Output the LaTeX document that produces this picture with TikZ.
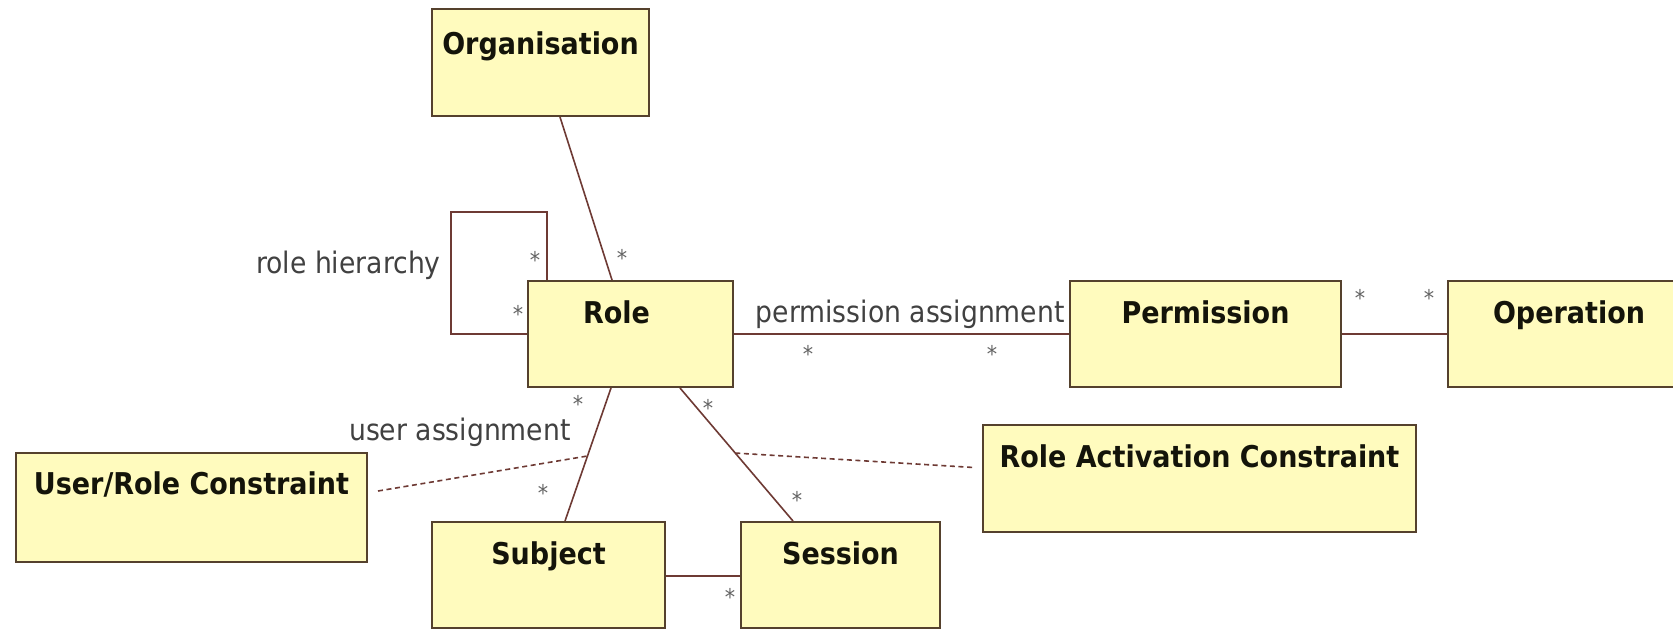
\documentclass[tikz,border=0pt]{standalone}
\usepackage{fontspec}
\setmainfont{DejaVu Sans Condensed}[BoldFont={DejaVu Sans Condensed Bold}]
\usetikzlibrary{calc}
\definecolor{boxfill}{RGB}{255,251,190}
\definecolor{boxdraw}{RGB}{85,65,45}
\definecolor{linecol}{RGB}{110,58,52}
\definecolor{titlecol}{RGB}{20,20,10}
\definecolor{labelcol}{RGB}{65,65,65}
\definecolor{starcol}{RGB}{100,100,100}
\begin{document}
\begin{tikzpicture}[x=0.5pt,y=-0.5pt,
 umlbox/.style={draw=boxdraw, fill=boxfill, line width=1pt, inner sep=0, rectangle},
 title/.style={font=\fontsize{15}{18}\selectfont\bfseries, text=titlecol, anchor=base, inner sep=0, yshift=-21.5pt},
 assoc/.style={draw=linecol, line width=0.8pt},
 constr/.style={draw=linecol, line width=0.8pt, dash pattern=on 2.5pt off 1.8pt},
 lbl/.style={font=\fontsize{14.8}{17}\selectfont, text=labelcol, anchor=base east, inner sep=0},
 mult/.style={font=\fontsize{11.5}{11.5}\selectfont, text=starcol, anchor=base, inner sep=0, yshift=-6.9pt}]

\clip (0,0) rectangle (1673,629);
\fill[white] (0,0) rectangle (1673,629);

% boxes
\node[umlbox, minimum width=108.5pt, minimum height=53.5pt] (org)  at (540.5,62.5) {};
\node[umlbox, minimum width=102.5pt, minimum height=53pt]   (role) at (630.5,334) {};
\node[umlbox, minimum width=135.5pt, minimum height=53pt]   (perm) at (1205.5,334) {};
\node[umlbox, minimum width=121pt,   minimum height=53pt]   (oper) at (1569,334) {};
\node[umlbox, minimum width=175.5pt, minimum height=54.5pt] (urc)  at (191.5,507.5) {};
\node[umlbox, minimum width=116.5pt, minimum height=53pt]   (subj) at (548.5,575) {};
\node[umlbox, minimum width=99.5pt,  minimum height=53pt]   (sess) at (840.5,575) {};
\node[umlbox, minimum width=216.5pt, minimum height=53.5pt] (rac)  at (1199.5,478.5) {};

% titles
\node[title, yshift=-1.5pt] (torg)  at (org.north) {Organisation};
\node[title, xshift=-7pt] (trole) at (role.north) {Role};
\node[title] (tperm) at (perm.north) {Permission};
\node[title] (toper) at (oper.north) {Operation};
\node[title, yshift=0.5pt] (turc)  at (urc.north) {User/Role Constraint};
\node[title] (tsubj) at (subj.north) {Subject};
\node[title] (tsess) at (sess.north) {Session};
\node[title] (trac)  at (rac.north) {Role Activation Constraint};

% associations
\draw[assoc] ($(org.south)+(19.5,0)$) -- ($(role.north)+(-18.5,0)$);
\draw[assoc] ($(role.north west)+(20,0)$) -- ++(0,-68) -- ++(-96,0) |- (role.west);
\draw[assoc] (role.east) -- (perm.west);
\draw[assoc] (perm.east) -- (oper.west);
\draw[assoc] ($(role.south)+(-19.5,0)$) -- coordinate[pos=0.511] (ua) ($(subj.north)+(16.5,0)$);
\draw[assoc] ($(role.south)+(49.5,0)$) -- coordinate[pos=0.489] (ra) ($(sess.north)+(-47.5,0)$);
\draw[assoc] ($(subj.east)+(0,1)$) -- ($(sess.west)+(0,1)$);

% constraints
\draw[constr] ($(urc.east)+(10,-16.5)$) -- (ua);
\draw[constr] (ra) -- ($(rac.west)+(-8,-11)$);

% labels
\node[lbl] (lrh) at (441,273) {role hierarchy};
\node[lbl] (lpa) at (1065,322) {permission assignment};
\node[lbl] (lua) at (571,440) {user assignment};

% multiplicities
\node[mult] (m1)  at (535,255) {*};
\node[mult] (m2)  at (518,309) {*};
\node[mult] (m3)  at (622,253) {*};
\node[mult] (m4)  at (808,349) {*};
\node[mult] (m5)  at (992,349) {*};
\node[mult] (m6)  at (1360,293) {*};
\node[mult] (m7)  at (1429,293) {*};
\node[mult] (m8)  at (578,399) {*};
\node[mult] (m9)  at (543,488) {*};
\node[mult] (m10) at (708,403) {*};
\node[mult] (m11) at (797,495) {*};
\node[mult] (m12) at (730,592) {*};
\end{tikzpicture}
\end{document}
